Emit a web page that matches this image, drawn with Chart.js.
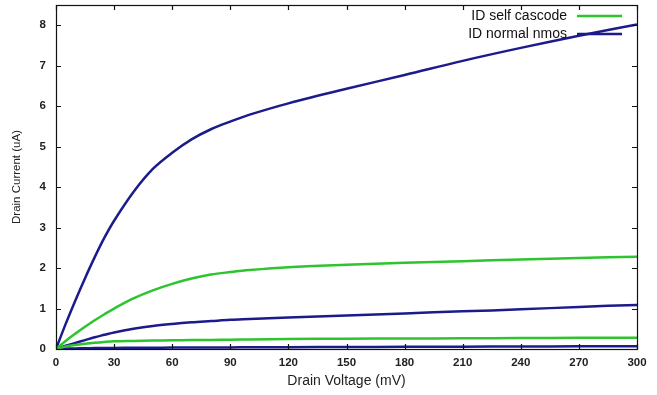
<!DOCTYPE html>
<html>
<head>
<meta charset="utf-8">
<script src="https://cdn.jsdelivr.net/npm/chart.js@4"></script>
<style>
  html, body { margin: 0; padding: 0; background: #fff; }
  #wrap { width: 657px; height: 395px; }
</style>
</head>
<body>
<div id="wrap"><canvas id="c" width="657" height="395"></canvas></div>
<script>
// Drain voltage sweep (mV)
const vdMV = [0, 5, 10, 15, 20, 25, 30, 40, 50, 60, 70, 80, 90, 100, 120, 150, 180, 210, 240, 270, 300];

// Drain current (uA), normal NMOS, high gate drive
const nmosHigh = [0, 0.62, 1.2, 1.75, 2.27, 2.75, 3.17, 3.88, 4.45, 4.85, 5.18, 5.43, 5.62, 5.79, 6.07, 6.43, 6.77, 7.12, 7.44, 7.74, 8.02];
// Drain current (uA), self cascode, high gate drive
const cascodeHigh = [0, 0.2, 0.38, 0.55, 0.71, 0.86, 1.0, 1.25, 1.45, 1.61, 1.74, 1.84, 1.9, 1.95, 2.02, 2.08, 2.13, 2.17, 2.21, 2.25, 2.28];
// Drain current (uA), normal NMOS, low gate drive
const nmosLow = [0, 0.08, 0.15, 0.22, 0.29, 0.35, 0.41, 0.5, 0.57, 0.62, 0.66, 0.69, 0.72, 0.74, 0.78, 0.83, 0.88, 0.93, 0.98, 1.04, 1.09];
// Drain current (uA), self cascode, low gate drive
const cascodeLow = [0, 0.06, 0.1, 0.13, 0.155, 0.175, 0.19, 0.2, 0.21, 0.215, 0.22, 0.225, 0.23, 0.235, 0.245, 0.255, 0.26, 0.265, 0.27, 0.275, 0.28];
// Drain current (uA), normal NMOS, near threshold
const nmosSub = [0, 0.01, 0.015, 0.02, 0.022, 0.025, 0.027, 0.03, 0.032, 0.034, 0.036, 0.038, 0.04, 0.042, 0.045, 0.05, 0.054, 0.058, 0.062, 0.066, 0.07];

// Axis ticks
const xTicks = [0, 30, 60, 90, 120, 150, 180, 210, 240, 270, 300];
const yTicks = [0, 1, 2, 3, 4, 5, 6, 7, 8];

const LABEL_CASCODE = 'ID self cascode';
const LABEL_NMOS = 'ID normal nmos';
const BLUE = '#1b1b8c';
const GREEN = '#2ec42e';

const pts = ys => vdMV.map((x, i) => ({ x, y: ys[i] }));

function series(label, ys, color) {
  return {
    label, data: pts(ys), borderColor: color, backgroundColor: color,
    borderWidth: 2.5, pointRadius: 0, fill: false, tension: 0.35
  };
}

// Frame, inward tick marks on all four sides, and a gnuplot-style key
const framePlugin = {
  id: 'frame',
  afterDatasetsDraw(chart) {
    const { ctx, chartArea: a, scales: { x, y } } = chart;
    ctx.save();
    ctx.strokeStyle = '#111';
    ctx.lineWidth = 1.2;
    ctx.strokeRect(a.left + 0.5, a.top + 0.5, a.right - a.left, a.bottom - a.top);
    const L = 5;
    ctx.beginPath();
    xTicks.forEach(v => {
      const px = Math.round(x.getPixelForValue(v)) + 0.5;
      ctx.moveTo(px, a.bottom); ctx.lineTo(px, a.bottom - L);
      ctx.moveTo(px, a.top); ctx.lineTo(px, a.top + L);
    });
    yTicks.forEach(v => {
      const py = Math.round(y.getPixelForValue(v)) + 0.5;
      ctx.moveTo(a.left, py); ctx.lineTo(a.left + L, py);
      ctx.moveTo(a.right, py); ctx.lineTo(a.right - L, py);
    });
    ctx.stroke();

    // key: right-aligned text followed by a short line sample
    const seen = [];
    chart.data.datasets.forEach(ds => {
      if (!seen.find(s => s.label === ds.label)) seen.push({ label: ds.label, color: ds.borderColor });
    });
    ctx.font = '14px "Liberation Sans", Arial, sans-serif';
    ctx.textAlign = 'right';
    ctx.textBaseline = 'middle';
    seen.forEach((s, i) => {
      const ty = a.top + 11 + i * 18;
      ctx.fillStyle = '#111';
      ctx.fillText(s.label, a.right - 70, ty);
      ctx.strokeStyle = s.color;
      ctx.lineWidth = 2.5;
      ctx.beginPath();
      ctx.moveTo(a.right - 60, ty); ctx.lineTo(a.right - 15, ty);
      ctx.stroke();
    });
    ctx.restore();
  }
};

new Chart(document.getElementById('c'), {
  type: 'line',
  data: {
    datasets: [
      series(LABEL_CASCODE, cascodeHigh, GREEN),
      series(LABEL_CASCODE, cascodeLow, GREEN),
      series(LABEL_NMOS, nmosHigh, BLUE),
      series(LABEL_NMOS, nmosLow, BLUE),
      series(LABEL_NMOS, nmosSub, BLUE)
    ]
  },
  options: {
    responsive: false,
    animation: false,
    layout: { padding: { top: 5, right: 20, left: 0, bottom: 0 } },
    plugins: { legend: { display: false }, tooltip: { enabled: false } },
    scales: {
      x: {
        type: 'linear', min: 0, max: 300,
        afterBuildTicks: s => { s.ticks = xTicks.map(v => ({ value: v })); },
        afterFit: s => { s.height = 46; s.paddingLeft = 0; s.paddingRight = 0; },
        grid: { display: false, drawTicks: false },
        border: { display: false },
        ticks: { padding: 7, maxRotation: 0, color: '#222',
                 font: { family: '"Liberation Sans", Arial, sans-serif', size: 11.5, weight: 'bold' } },
        title: { display: true, text: 'Drain Voltage (mV)', color: '#222',
                 font: { family: '"Liberation Sans", Arial, sans-serif', size: 14 },
                 padding: { top: 0, bottom: 5 } }
      },
      y: {
        min: 0, max: 8.5,
        afterBuildTicks: s => { s.ticks = yTicks.map(v => ({ value: v })); },
        afterFit: s => { s.width = 56; s.paddingTop = 0; s.paddingBottom = 0; },
        grid: { display: false, drawTicks: false },
        border: { display: false },
        ticks: { padding: 10, color: '#222',
                 font: { family: '"Liberation Sans", Arial, sans-serif', size: 11.5, weight: 'bold' } },
        title: { display: true, text: 'Drain Current (uA)', color: '#222',
                 font: { family: '"Liberation Sans", Arial, sans-serif', size: 11.5 },
                 padding: { top: 10, bottom: 0 } }
      }
    }
  },
  plugins: [framePlugin]
});
</script>
</body>
</html>
